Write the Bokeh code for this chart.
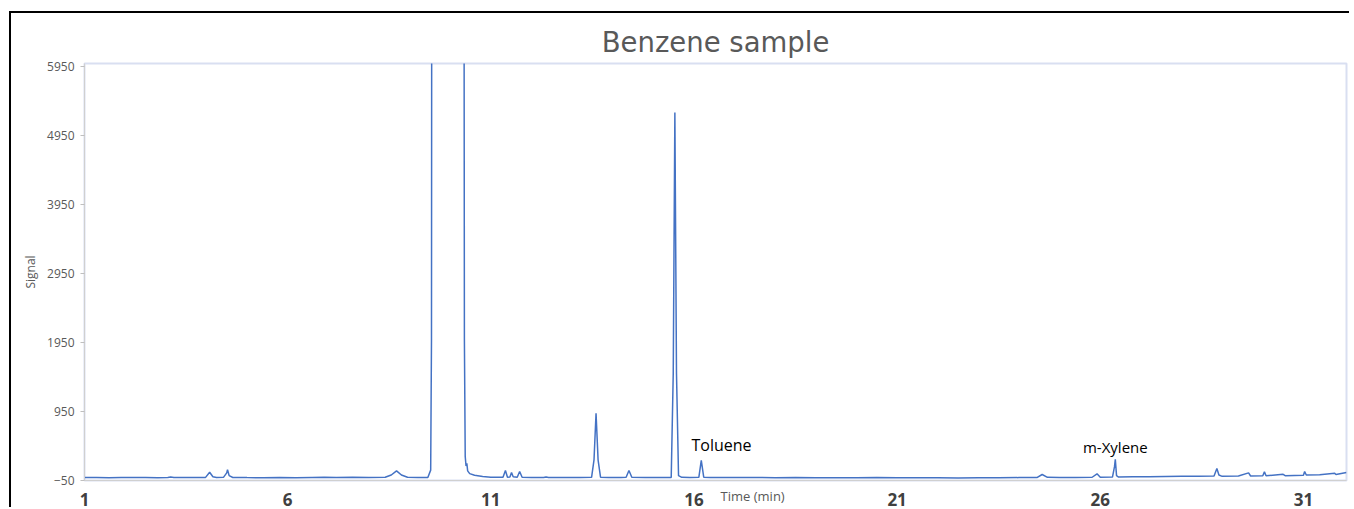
from bokeh.plotting import figure
from bokeh.models import Range1d, FixedTicker, Label
from bokeh.embed import file_html
from bokeh.resources import INLINE

# ---- data ----
time_min = [
    1.00, 1.30, 1.60, 1.90, 2.20, 2.50, 2.80, 3.05, 3.12, 3.20, 3.50, 3.80, 3.98, 4.08, 4.16, 4.25,
    4.42, 4.50, 4.52, 4.56, 4.65, 5.00, 5.40, 5.80, 6.20, 6.60, 6.90, 7.20, 7.60, 8.00, 8.40, 8.55,
    8.68, 8.80, 8.95, 9.20, 9.45, 9.52, 9.54, 9.56, 10.00, 10.32, 10.35, 10.37, 10.39, 10.41, 10.43,
    10.48, 10.60, 10.80, 11.00, 11.30, 11.36, 11.41, 11.47, 11.51, 11.55, 11.65, 11.71, 11.77, 12.00,
    12.30, 12.36, 12.42, 12.80, 13.20, 13.48, 13.54, 13.59, 13.64, 13.70, 13.90, 14.20, 14.33, 14.40,
    14.47, 14.80, 15.20, 15.44, 15.49, 15.53, 15.57, 15.62, 15.70, 15.90, 16.12, 16.18, 16.24, 16.40,
    17.00, 17.50, 18.00, 18.50, 19.00, 19.50, 20.00, 20.50, 21.00, 21.50, 22.00, 22.50, 23.00, 23.50,
    24.00, 24.45, 24.57, 24.70, 25.00, 25.40, 25.80, 25.92, 26.00, 26.30, 26.35, 26.37, 26.40, 26.45,
    26.80, 27.20, 27.60, 28.00, 28.40, 28.80, 28.87, 28.92, 29.00, 29.40, 29.65, 29.70, 30.00, 30.04,
    30.08, 30.50, 30.55, 31.00, 31.03, 31.07, 31.40, 31.77, 31.80, 32.06,
]
signal = [
    -8, -6, -9, -5, -8, -6, -9, -6, 2, -6, -8, -7, -5, 70, 5, -6,
    -4, 60, 105, 20, -6, -8, -9, -7, -9, -5, -2, -6, -4, -5, -3, 30,
    90, 30, -4, -6, -6, 100, 2000, 20000, 30000, 20000, 2000, 300, 160, 200, 90,
    50, 25, 8, -2, -4, 95, -2, 0, 66, 5, -3, 80, -2, -5,
    -6, 2, -6, -7, -6, -4, 250, 925, 250, -2, -6, -7, -4, 95,
    -4, -6, -7, -5, 1500, 5280, 1500, 20, -4, -6, -4, 240, -2, -7,
    -8, -6, -10, -8, -11, -9, -10, -8, -11, -9, -10, -12, -9, -11,
    -8, -6, 37, -4, -6, -5, -3, 47, -2, -1, 150, 258, 20, 0,
    3, 5, 8, 10, 12, 15, 123, 30, 10, 15, 60, 15, 18, 75,
    18, 40, 20, 25, 80, 30, 35, 55, 38, 65,
]
x_ticks = [1, 6, 11, 16, 21, 26, 31]
y_ticks = [-50, 950, 1950, 2950, 3950, 4950, 5950]
peak_names = ["Toluene", "m-Xylene"]

p = figure(
    width=1340, height=496, output_backend="svg", toolbar_location=None,
    x_range=Range1d(1, 32.06), y_range=Range1d(-50, 5990),
    min_border_left=73, min_border_right=5, min_border_top=50, min_border_bottom=29,
    title="Benzene sample",
)
p.styles = {"border-top": "2px solid #000000", "border-left": "2px solid #000000",
            "margin-left": "9px", "margin-top": "11px"}
p.background_fill_color = "white"
p.border_fill_color = "white"
p.outline_line_color = "#D9DFF1"
p.outline_line_width = 2
p.xgrid.visible = False
p.ygrid.visible = False

p.title.align = "center"
p.title.offset = 4
p.title.text_font = "DejaVu Sans"
p.title.text_font_size = "27.5px"
p.title.text_font_style = "normal"
p.title.text_color = "#595959"
p.title.standoff = 11

p.line(time_min, signal, line_color="#4472C4", line_width=1.5)

# axes
p.xaxis.ticker = FixedTicker(ticks=x_ticks)
p.xaxis.minor_tick_line_color = None
p.xaxis.major_tick_line_color = None
p.xaxis.axis_line_color = "#D0D0D0"
p.xaxis.major_label_text_font = "Open Sans"
p.xaxis.major_label_text_font_style = "bold"
p.xaxis.major_label_text_font_size = "17px"
p.xaxis.major_label_text_color = "#404040"
p.xaxis.major_label_standoff = 6
# axis title sits to the right of the "16" tick label, as in the reference
p.xaxis.axis_label = "\u00a0" * 22 + "Time (min)"
p.xaxis.axis_label_text_font = "Open Sans"
p.xaxis.axis_label_text_font_style = "normal"
p.xaxis.axis_label_text_font_size = "13px"
p.xaxis.axis_label_text_color = "#595959"
p.xaxis.axis_label_text_line_height = 0.2
p.xaxis.axis_label_standoff = -22

p.yaxis.ticker = FixedTicker(ticks=y_ticks)
p.yaxis.minor_tick_line_color = None
p.yaxis.major_tick_in = 0
p.yaxis.major_tick_out = 4
p.yaxis.major_tick_line_color = "#BFBFBF"
p.yaxis.axis_line_color = "#D0D0D0"
p.yaxis.major_label_text_font = "Open Sans"
p.yaxis.major_label_text_font_size = "12px"
p.yaxis.major_label_text_color = "#595959"
p.yaxis.major_label_standoff = 6
p.yaxis.axis_label = "Signal"
p.yaxis.axis_label_text_font = "Open Sans"
p.yaxis.axis_label_text_font_style = "normal"
p.yaxis.axis_label_text_font_size = "12px"
p.yaxis.axis_label_text_color = "#595959"
p.yaxis.axis_label_standoff = 5

# peak annotations
p.add_layout(Label(x=15.94, y=470, text=peak_names[0], text_font="Open Sans",
                   text_font_size="16px", text_color="#000000", text_baseline="middle"))
p.add_layout(Label(x=26.37, y=441, text=peak_names[1], text_font="Open Sans",
                   text_font_size="15px", text_color="#000000", text_baseline="middle",
                   text_align="center"))

open("out.html", "w").write(file_html(p, INLINE))
